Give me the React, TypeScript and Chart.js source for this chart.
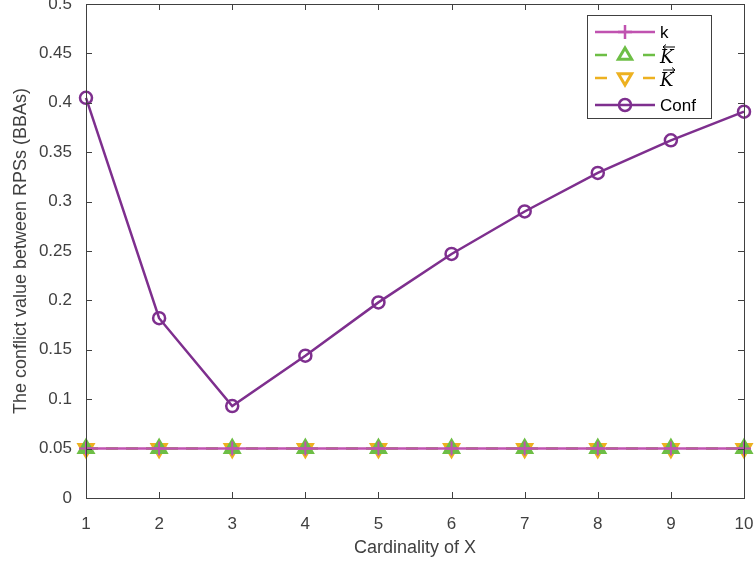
import React, { useEffect, useRef } from "react";
import { Chart, registerables } from "chart.js";
Chart.register(...registerables);

const xValues = [1, 2, 3, 4, 5, 6, 7, 8, 9, 10];
const kValues = [0.05, 0.05, 0.05, 0.05, 0.05, 0.05, 0.05, 0.05, 0.05, 0.05];
const kLeftValues = [0.05, 0.05, 0.05, 0.05, 0.05, 0.05, 0.05, 0.05, 0.05, 0.05];
const kRightValues = [0.05, 0.05, 0.05, 0.05, 0.05, 0.05, 0.05, 0.05, 0.05, 0.05];
const confValues = [0.405, 0.182, 0.093, 0.144, 0.198, 0.247, 0.290, 0.329, 0.362, 0.391];
const seriesLabels = ["k", "K", "K", "Conf"];
const arrowDirs = [0, -1, 1, 0];

const FONT = "'Liberation Sans', Arial, sans-serif";
const AXIS_COLOR = "#404040";

const pts = (arr: number[]) => arr.map((v, i) => ({ x: xValues[i], y: v }));

const boxPlugin = {
  id: "boxTicks",
  afterDraw(chart: any) {
    const { ctx, chartArea: a, scales } = chart;
    ctx.save();
    ctx.strokeStyle = AXIS_COLOR;
    ctx.lineWidth = 1;
    ctx.strokeRect(a.left + 0.5, a.top + 0.5, a.right - a.left, a.bottom - a.top);
    const L = 6;
    ctx.beginPath();
    scales.x.ticks.forEach((t: any) => {
      const px = Math.round(scales.x.getPixelForValue(t.value)) + 0.5;
      ctx.moveTo(px, a.bottom);
      ctx.lineTo(px, a.bottom - L);
      ctx.moveTo(px, a.top);
      ctx.lineTo(px, a.top + L);
    });
    scales.y.ticks.forEach((t: any) => {
      const py = Math.round(scales.y.getPixelForValue(t.value)) + 0.5;
      ctx.moveTo(a.left, py);
      ctx.lineTo(a.left + L, py);
      ctx.moveTo(a.right, py);
      ctx.lineTo(a.right - L, py);
    });
    ctx.stroke();

    // legend
    const bx = 587, by = 15, bw = 124, bh = 103;
    ctx.fillStyle = "#ffffff";
    ctx.fillRect(bx, by, bw, bh);
    ctx.strokeStyle = "#404040";
    ctx.strokeRect(bx + 0.5, by + 0.5, bw, bh);
    const rows = [32, 55, 78, 105];
    chart.data.datasets.forEach((ds: any, i: number) => {
      const y = rows[i];
      ctx.save();
      ctx.strokeStyle = ds.borderColor;
      ctx.lineWidth = 2.5;
      ctx.beginPath();
      if (ds.borderDash && ds.borderDash.length) {
        ctx.moveTo(595, y); ctx.lineTo(607, y);
        ctx.moveTo(643, y); ctx.lineTo(655, y);
      } else {
        ctx.moveTo(595, y); ctx.lineTo(655, y);
      }
      ctx.stroke();
      const cx = 625;
      ctx.strokeStyle = ds.pointBorderColor;
      ctx.lineWidth = 2.5;
      ctx.beginPath();
      const r = 7;
      if (ds.pointStyle === "cross") {
        ctx.moveTo(cx - r, y); ctx.lineTo(cx + r, y);
        ctx.moveTo(cx, y - r); ctx.lineTo(cx, y + r);
        ctx.stroke();
      } else if (ds.pointStyle === "triangle") {
        const up = ds.rotation === 0;
        const s = up ? -1 : 1;
        ctx.moveTo(cx, y + s * r);
        ctx.lineTo(cx - r * 0.95, y - s * r * 0.6);
        ctx.lineTo(cx + r * 0.95, y - s * r * 0.6);
        ctx.closePath();
        ctx.lineWidth = 3;
        ctx.stroke();
      } else {
        ctx.arc(cx, y, 6, 0, Math.PI * 2);
        ctx.stroke();
      }
      ctx.restore();
      ctx.fillStyle = "#000000";
      ctx.textBaseline = "middle";
      ctx.textAlign = "left";
      if (arrowDirs[i] !== 0) {
        ctx.font = "italic 18px 'DejaVu Serif', serif";
        ctx.fillText(seriesLabels[i], 660, y + 3);
        const ax0 = 663, ax1 = 675, ay = y - 8;
        ctx.strokeStyle = "#000000";
        ctx.lineWidth = 1;
        ctx.beginPath();
        ctx.moveTo(ax0, ay); ctx.lineTo(ax1, ay);
        const tip = arrowDirs[i] < 0 ? ax0 : ax1;
        const d = arrowDirs[i] < 0 ? 3 : -3;
        ctx.moveTo(tip + d, ay - 2.5); ctx.lineTo(tip, ay); ctx.lineTo(tip + d, ay + 2.5);
        ctx.stroke();
      } else {
        ctx.font = `17px ${FONT}`;
        ctx.fillText(seriesLabels[i], 660, y + 1);
      }
    });
    ctx.restore();
  },
};

export default function App() {
  const ref = useRef<HTMLCanvasElement>(null);
  useEffect(() => {
    const chart = new Chart(ref.current!, {
      type: "line",
      data: {
        datasets: [
          {
            label: seriesLabels[0],
            data: pts(kValues),
            borderColor: "#C052B0",
            borderWidth: 2.5,
            pointStyle: "cross",
            pointRadius: 7,
            pointBorderColor: "#C052B0",
            pointBorderWidth: 2,
            rotation: 0,
          },
          {
            label: seriesLabels[1],
            data: pts(kLeftValues),
            borderColor: "#6DBE45",
            borderWidth: 2.5,
            borderDash: [12, 8],
            pointStyle: "triangle",
            rotation: 0,
            pointRadius: 9,
            pointBorderColor: "#6DBE45",
            pointBackgroundColor: "#6DBE45",
            pointBorderWidth: 2,
          },
          {
            label: seriesLabels[2],
            data: pts(kRightValues),
            borderColor: "#EDB120",
            borderWidth: 2.5,
            borderDash: [12, 8],
            pointStyle: "triangle",
            rotation: 180,
            pointRadius: 9,
            pointBorderColor: "#EDB120",
            pointBackgroundColor: "#EDB120",
            pointBorderWidth: 2,
          },
          {
            label: seriesLabels[3],
            data: pts(confValues),
            borderColor: "#7E2F8E",
            borderWidth: 2.5,
            pointStyle: "circle",
            pointRadius: 6,
            pointBorderColor: "#7E2F8E",
            pointBackgroundColor: "rgba(0,0,0,0)",
            pointBorderWidth: 2.5,
          },
        ] as any,
      },
      options: {
        animation: false,
        responsive: false,
        devicePixelRatio: 1,
        clip: false as any,
        layout: { autoPadding: false, padding: { top: 4, right: 10, left: 0, bottom: 0 } },
        plugins: { legend: { display: false }, tooltip: { enabled: false } },
        scales: {
          x: {
            type: "linear",
            min: 1,
            max: 10,
            afterFit: (s: any) => { s.height = 65; s.paddingLeft = 0; s.paddingRight = 0; },
            ticks: { stepSize: 1, color: AXIS_COLOR, font: { family: FONT, size: 17 }, padding: 8 },
            grid: { display: false },
            border: { display: false },
            title: { display: true, text: "Cardinality of X", color: AXIS_COLOR, font: { family: FONT, size: 18 }, padding: { top: 2 } },
          },
          y: {
            type: "linear",
            min: 0,
            max: 0.5,
            afterFit: (s: any) => { s.width = 86; s.paddingTop = 0; s.paddingBottom = 0; },
            ticks: {
              stepSize: 0.05,
              color: AXIS_COLOR,
              font: { family: FONT, size: 17 },
              padding: 6,
              callback: (v: any) => String(Number(Number(v).toFixed(2))),
            },
            grid: { display: false },
            border: { display: false },
            title: { display: true, text: "The conflict value between RPSs (BBAs)", color: AXIS_COLOR, font: { family: FONT, size: 18 }, padding: { top: 10, bottom: 0 } },
          },
        },
      },
      plugins: [boxPlugin],
    } as any);
    return () => chart.destroy();
  }, []);
  return (
    <div style={{ position: "fixed", left: 0, top: 0, width: 754, height: 563, background: "#fff", overflow: "hidden" }}>
      <canvas ref={ref} width={754} height={563} style={{ width: 754, height: 563 }} />
    </div>
  );
}
